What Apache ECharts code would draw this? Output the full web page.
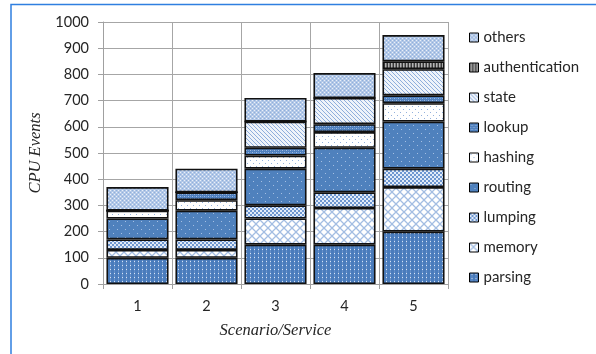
<!DOCTYPE html>
<html>
<head>
<meta charset="utf-8">
<script src="https://cdn.jsdelivr.net/npm/echarts@6/dist/echarts.min.js"></script>
<style>
  html, body { margin: 0; padding: 0; background: #fff; }
  #chart { width: 596px; height: 354px; }
</style>
</head>
<body>
<div id="chart"></div>
<script>
// Scenario/service categories on the x axis
const categories = ['1', '2', '3', '4', '5'];
const yTicks = [0, 100, 200, 300, 400, 500, 600, 700, 800, 900, 1000];

// CPU events per component, stacked bottom to top
const parsing        = [100, 100, 150, 150, 200];
const memory         = [30, 30, 100, 140, 170];
const lumping        = [40, 40, 50, 60, 70];
const routing        = [80, 110, 140, 170, 180];
const hashing        = [30, 40, 50, 60, 70];
const lookup         = [0, 30, 30, 30, 30];
const state          = [0, 0, 100, 100, 100];
const authentication = [0, 0, 0, 0, 30];
const others         = [90, 90, 90, 95, 100];

// Small tiled fill patterns
function tile(w, h, draw) {
  const c = document.createElement('canvas');
  c.width = w; c.height = h;
  const g = c.getContext('2d');
  draw(g);
  return { image: c, repeat: 'repeat' };
}
function px(g, color, pts) {
  g.fillStyle = color;
  pts.forEach(p => g.fillRect(p[0], p[1], 1, 1));
}

const fills = {
  parsing: tile(4, 4, g => {
    g.fillStyle = '#4a7cbc'; g.fillRect(0, 0, 4, 4);
    g.fillStyle = '#6690c9'; g.fillRect(2, 0, 1, 4);
    px(g, '#d6e3f5', [[2, 1]]);
  }),
  memory: tile(8, 8, g => {
    g.fillStyle = '#ffffff'; g.fillRect(0, 0, 8, 8);
    g.strokeStyle = '#a3bde2'; g.lineWidth = 1.3;
    g.beginPath();
    g.moveTo(0, 0); g.lineTo(8, 8);
    g.moveTo(8, 0); g.lineTo(0, 8);
    g.stroke();
  }),
  lumping: tile(4, 4, g => {
    g.fillStyle = '#e2ebf8'; g.fillRect(0, 0, 4, 4);
    g.fillStyle = '#6e97d0';
    g.fillRect(0, 0, 2, 2); g.fillRect(2, 2, 2, 2);
  }),
  routing: tile(8, 8, g => {
    g.fillStyle = '#4f81bd'; g.fillRect(0, 0, 8, 8);
    px(g, '#a4bfe3', [[1, 1], [5, 5]]);
  }),
  hashing: tile(6, 6, g => {
    g.fillStyle = '#ffffff'; g.fillRect(0, 0, 6, 6);
    px(g, '#93b1dc', [[1, 1], [4, 4]]);
  }),
  lookup: tile(4, 4, g => {
    g.fillStyle = '#4f80bd'; g.fillRect(0, 0, 4, 4);
    px(g, '#a0bbe2', [[0, 0], [2, 2]]);
    px(g, '#7097cf', [[2, 0], [0, 2]]);
  }),
  state: tile(4, 4, g => {
    g.fillStyle = '#eef3fa'; g.fillRect(0, 0, 4, 4);
    px(g, '#8eaedc', [[0, 0], [1, 1], [2, 2], [3, 3]]);
  }),
  authentication: tile(3, 3, g => {
    g.fillStyle = '#3a3a3a'; g.fillRect(0, 0, 1, 3);
    g.fillStyle = '#b4b4b4'; g.fillRect(1, 0, 1, 3);
    g.fillStyle = '#7a7a7a'; g.fillRect(2, 0, 1, 3);
  }),
  others: tile(4, 4, g => {
    g.fillStyle = '#b3c8e7'; g.fillRect(0, 0, 4, 4);
    px(g, '#eaf0f9', [[0, 0], [2, 2]]);
    px(g, '#8fb0dd', [[2, 0], [0, 2]]);
  })
};

const seriesData = [
  ['parsing', parsing],
  ['memory', memory],
  ['lumping', lumping],
  ['routing', routing],
  ['hashing', hashing],
  ['lookup', lookup],
  ['state', state],
  ['authentication', authentication],
  ['others', others]
];

const chart = echarts.init(document.getElementById('chart'), null, { renderer: 'canvas' });

chart.setOption({
  animation: false,
  backgroundColor: '#ffffff',
  textStyle: { fontFamily: 'Lato' },
  grid: { left: 103, right: 148, top: 22, bottom: 70, containLabel: false },
  legend: {
    orient: 'vertical',
    left: 469,
    top: 30,
    padding: 0,
    itemWidth: 9,
    itemHeight: 9,
    itemGap: 15,
    icon: 'rect',
    data: seriesData.map(s => s[0]).reverse(),
    textStyle: { fontFamily: 'Lato', fontSize: 15, color: '#262626', lineHeight: 14 },
    itemStyle: { borderColor: '#000', borderWidth: 1 }
  },
  xAxis: {
    type: 'category',
    data: categories,
    name: 'Scenario/Service',
    nameLocation: 'middle',
    nameGap: 38,
    nameTextStyle: { fontFamily: 'Liberation Serif', fontStyle: 'italic', fontSize: 16.5, color: '#262626' },
    axisLine: { lineStyle: { color: '#a0a0a0', width: 1 } },
    axisTick: { show: true, interval: 0, length: 5, lineStyle: { color: '#a0a0a0' } },
    axisLabel: { fontFamily: 'Lato', fontSize: 14.5, color: '#262626', margin: 15 },
    splitLine: { show: true, interval: 0, lineStyle: { color: '#a6a6a6', width: 1 } }
  },
  yAxis: {
    type: 'value',
    min: 0,
    max: 1000,
    interval: 100,
    name: 'CPU Events',
    nameLocation: 'middle',
    nameGap: 54,
    nameTextStyle: { fontFamily: 'Liberation Serif', fontStyle: 'italic', fontSize: 16.5, color: '#262626' },
    axisLine: { show: true, lineStyle: { color: '#a0a0a0', width: 1 } },
    axisTick: { show: true, length: 5, lineStyle: { color: '#a0a0a0' } },
    axisLabel: {
      fontFamily: 'Lato', fontSize: 14.5, color: '#262626', margin: 14,
      formatter: v => (yTicks.indexOf(v) >= 0 ? String(v) : '')
    },
    splitLine: { show: true, lineStyle: { color: '#a6a6a6', width: 1 } }
  },
  series: seriesData.map(([name, values]) => ({
    name,
    type: 'bar',
    stack: 'cpu',
    barCategoryGap: '10%',
    data: values,
    itemStyle: { color: fills[name], borderColor: '#111', borderWidth: 1.6 },
    emphasis: { disabled: true }
  })),
  graphic: [
    {
      type: 'polyline',
      shape: { points: [[11, 354], [11, 4.5], [596, 4.5]] },
      style: { stroke: '#2f7fe0', lineWidth: 1.5, fill: null },
      silent: true
    }
  ]
});
</script>
</body>
</html>
